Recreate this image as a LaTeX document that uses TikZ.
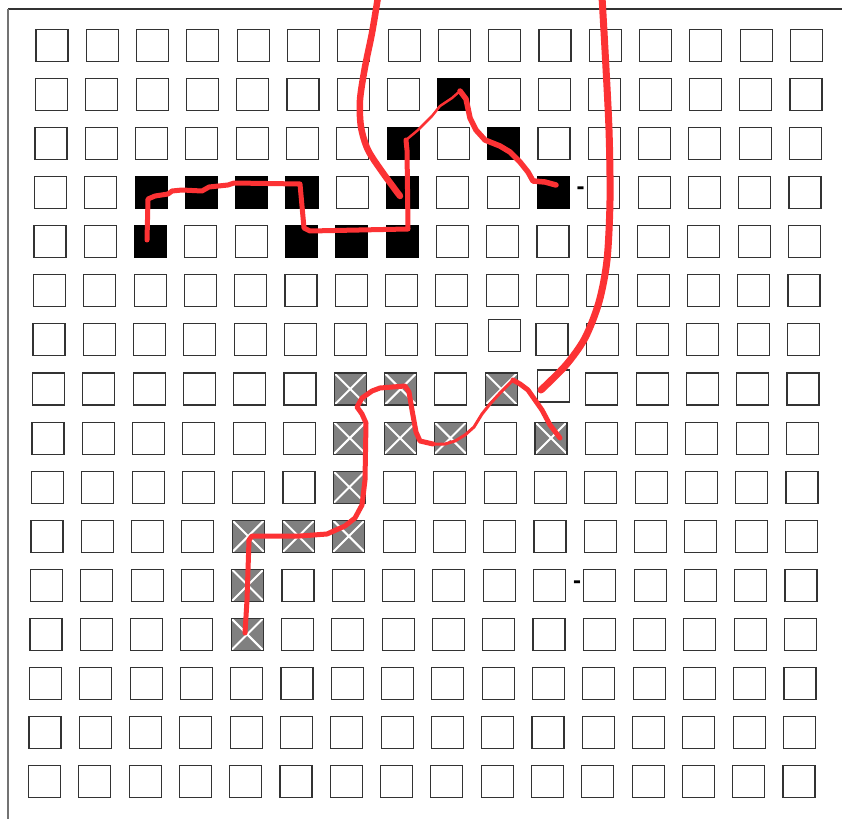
\documentclass[tikz,border=0pt]{standalone}
\usepackage{fontspec}
\setmainfont{Liberation Sans}
\definecolor{pen}{RGB}{252,50,52}
\newcommand\markcell[1]{\expandafter\gdef\csname kind#1\endcsname{x}}
\markcell{2-9}\markcell{3-8}\markcell{3-10}
\markcell{4-3}\markcell{4-4}\markcell{4-5}\markcell{4-6}\markcell{4-8}\markcell{4-11}
\markcell{5-3}\markcell{5-6}\markcell{5-7}\markcell{5-8}
\markcell{8-7}\markcell{8-8}\markcell{8-10}
\markcell{9-7}\markcell{9-8}\markcell{9-9}\markcell{9-11}
\markcell{10-7}\markcell{11-5}\markcell{11-6}\markcell{11-7}\markcell{12-5}\markcell{13-5}
\markcell{7-10}\markcell{8-11}
\begin{document}
\begin{tikzpicture}[x=1pt,y=-1pt,
  cell/.style={draw=black!80, line width=1.1pt, minimum size=32pt, inner sep=0pt, fill=white},
  blk/.style={cell, fill=black, draw=black},
  crossed/.style={cell, fill=black!50, path picture={\draw[white, line width=2pt]
     (path picture bounding box.north west) -- (path picture bounding box.south east)
     (path picture bounding box.north east) -- (path picture bounding box.south west);}},
  stroke/.style={draw=pen, line width=#1, line cap=round, line join=round},
  dashmark/.style={inner sep=0pt, font=\fontsize{24}{24}\selectfont\bfseries}]
\fill[white] (0,0) rectangle (842,818);
\useasboundingbox (0,0) rectangle (842,818);
% plain cells
\foreach \r in {1,...,16}{\foreach \c in {1,...,16}{
  \ifcsname kind\r-\c\endcsname\else
    \node[cell] (n-\r-\c) at ({52-0.5*(\r-1)+50.3*(\c-1)},{45.5+49.07*(\r-1)}) {};
  \fi}}
% slightly displaced plain cells
\node[cell] (n-7-10) at ({52-3+50.3*9+3},{45.5+49.07*6-4}) {};
\node[cell] (n-8-11) at ({52-3.5+50.3*10+2},{45.5+49.07*7-3}) {};
% black cells
\foreach \r/\c in {2/9,3/8,3/10,4/3,4/4,4/5,4/6,4/8,4/11,5/3,5/6,5/7,5/8}
  \node[blk] (n-\r-\c) at ({52-0.5*(\r-1)+50.3*(\c-1)},{45.5+49.07*(\r-1)}) {};
% crossed grey cells
\foreach \r/\c in {8/7,8/8,8/10,9/7,9/8,9/9,9/11,10/7,11/5,11/6,11/7,12/5,13/5}
  \node[crossed] (n-\r-\c) at ({52-0.5*(\r-1)+50.3*(\c-1)},{45.5+49.07*(\r-1)}) {};
% dash marks
\node[dashmark] (d1) at (580.5,191) {-};
\node[dashmark] (d2) at (577,585) {-};
% frame
\draw[black!80, line width=1.2pt] (843,9) -- (8,9);
\draw[black!55, line width=1.4pt] (8,9) -- (8,819);
% red strokes
\draw[stroke=5] (147,240) -- (148,199) -- (155,196) -- (168,194) -- (172,191) -- (182,190)
  -- (202,191) -- (209,187) -- (228,185) -- (234,183) -- (300,184) -- (304,228) -- (310,231)
  -- (408,229) -- (407,150) -- (406,140);
\draw[stroke=2.5] (406,140) -- (418,130) -- (432,116) -- (440,106) -- (452,98) -- (460,91);
\draw[stroke=5.5] (460,91) -- (466,99) -- (470,118) -- (476,130) -- (485,140) -- (500,146)
  -- (510,152) -- (520,162) -- (528,172) -- (533,181) -- (545,182) -- (556,185);
\draw[stroke=6.5] plot[smooth] coordinates {(378,-3) (372,33) (365,67) (360,100) (361,127) (368,150) (383,173) (400,196)};
\draw[stroke=7] plot[smooth] coordinates {(602,-3) (605,50) (609,130) (610,200) (607,260) (599,302) (585,338) (566,365) (541,390)};
\draw[stroke=5] (245,633) -- (247,600) -- (249,540) -- (252,536) -- (300,536) -- (327,534)
  -- (345,526) -- (355,518) -- (362,505) -- (365,480) -- (366,423) -- (362,414) -- (357,407)
  -- (362,398) -- (372,391) -- (380,388) -- (405,386) -- (409,392) -- (412,410) -- (416,432)
  -- (420,441) -- (433,444);
\draw[stroke=3] (433,444) -- (445,444) -- (455,441) -- (465,435) -- (474,427) -- (482,414)
  -- (490,404) -- (500,393) -- (513,380);
\draw[stroke=5] (513,380) -- (520,384) -- (528,390) -- (535,400) -- (542,410) -- (550,425) -- (560,438);
\end{tikzpicture}
\end{document}
